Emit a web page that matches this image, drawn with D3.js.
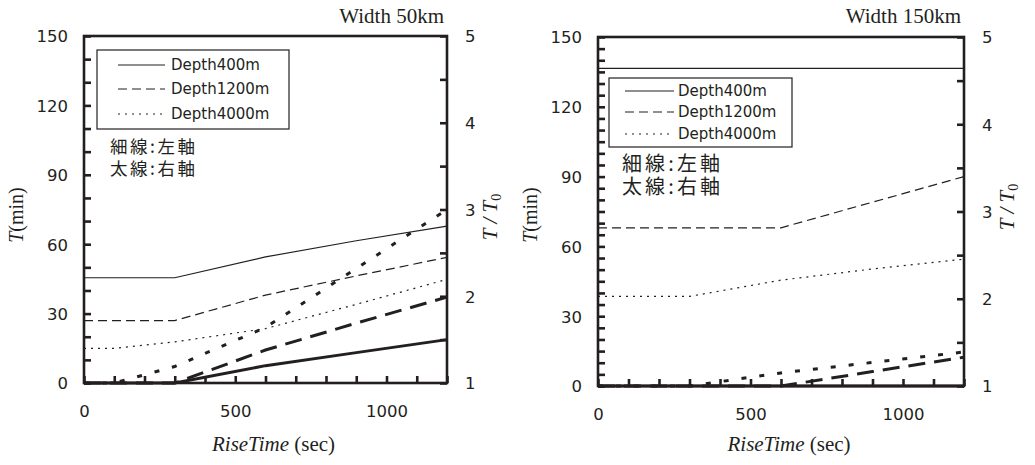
<!DOCTYPE html>
<html><head><meta charset="utf-8">
<title>T vs RiseTime</title>
<script src="https://d3js.org/d3.v7.min.js"></script>
<style>
  body { margin: 0; background: #fff; }
  svg { display: block; }
  .tick line { stroke: #231f20; stroke-width: 2.6; }
  .tick text { font-family: "DejaVu Sans", sans-serif; font-size: 16.5px; fill: #231f20; }
</style>
</head>
<body>
<svg width="1035" height="465"></svg>
<script>
  // rise time samples (sec)
  const riseTime = [0, 100, 300, 600, 900, 1200];
  const depths = ["Depth400m", "Depth1200m", "Depth4000m"];
  const notes = ["細線:左軸", "太線:右軸"];

  // Width 50km: thin = T (min) left axis, thick = T/T0 right axis
  const w50T400 = [45.5, 45.5, 45.5, 54.5, 61.5, 67.8];
  const w50T1200 = [27, 27, 27, 38, 46.3, 54.3];
  const w50T4000 = [15, 15, 17.8, 23.5, 34, 44.8];
  const w50R400 = [1, 1, 1, 1.2, 1.35, 1.5];
  const w50R1200 = [1, 1, 1, 1.38, 1.69, 1.99];
  const w50R4000 = [1, 1, 1.19, 1.64, 2.32, 3.0];

  // Width 150km
  const w150T400 = [136.5, 136.5, 136.5, 136.5, 136.5, 136.5];
  const w150T1200 = [68, 68, 68, 68, 79, 90];
  const w150T4000 = [38.5, 38.5, 38.5, 45.5, 50.3, 54.5];
  const w150R400 = [1, 1, 1, 1, 1, 1];
  const w150R1200 = [1, 1, 1, 1, 1.165, 1.33];
  const w150R4000 = [1, 1, 1, 1.15, 1.27, 1.39];

  const ink = "#231f20";
  const thinDash = [null, "9,5", "2,5"];
  const thickDash = [null, "17,9", "5,13"];

  const panels = [
    { title: "Width 50km", left: 84, right: 447, top: 36, bottom: 383, minorT: 10,
      thin: [w50T400, w50T1200, w50T4000], thick: [w50R400, w50R1200, w50R4000],
      leg: { x: 97, y: 50, w: 192, h: 79, rows: [65, 89, 114], lx: 118, lw: 47, tx: 171 },
      note: { x: 110, y: 153, gap: 22, size: 17.5, len: 85 },
      rtY: 217 },
    { title: "Width 150km", left: 598, right: 964, top: 37, bottom: 386, minorT: 5,
      thin: [w150T400, w150T1200, w150T4000], thick: [w150R400, w150R1200, w150R4000],
      leg: { x: 609, y: 78, w: 183, h: 69, rows: [91, 112, 134], lx: 625, lw: 49, tx: 678 },
      note: { x: 622, y: 171, gap: 23, size: 20, len: 98 },
      rtY: 207 }
  ];

  const svg = d3.select("svg");

  panels.forEach(p => {
    const g = svg.append("g");
    const x = d3.scaleLinear().domain([0, 1200]).range([p.left, p.right]);
    const yT = d3.scaleLinear().domain([0, 150]).range([p.bottom, p.top]);
    const yR = d3.scaleLinear().domain([1, 5]).range([p.bottom, p.top]);

    // frame
    g.append("rect")
      .attr("x", p.left).attr("y", p.top)
      .attr("width", p.right - p.left).attr("height", p.bottom - p.top)
      .attr("fill", "none").attr("stroke", ink).attr("stroke-width", 2.6);

    // axes, ticks pointing inward
    const ax = g.append("g").attr("transform", "translate(0," + p.bottom + ")")
      .call(d3.axisBottom(x).tickValues(d3.range(0, 1201, 100)).tickSize(-7).tickPadding(22)
        .tickFormat(d => d % 500 === 0 ? d : ""));
    const al = g.append("g").attr("transform", "translate(" + p.left + ",0)")
      .call(d3.axisLeft(yT).tickValues(d3.range(0, 151, p.minorT)).tickSize(-7).tickPadding(16)
        .tickFormat(d => d % 30 === 0 ? d : ""));
    const ar = g.append("g").attr("transform", "translate(" + p.right + ",0)")
      .call(d3.axisRight(yR).tickValues(d3.range(1, 5.01, 0.5)).tickSize(-7).tickPadding(18)
        .tickFormat(d => Number.isInteger(d) ? d : ""));
    [ax, al, ar].forEach(a => a.select(".domain").remove());
    al.selectAll(".tick text").attr("dy", "0.36em");
    ar.selectAll(".tick text").attr("dy", "0.36em");

    // thin lines (left axis), thick lines (right axis)
    const lineT = d3.line().x((d, i) => x(riseTime[i])).y(d => yT(d));
    const lineR = d3.line().x((d, i) => x(riseTime[i])).y(d => yR(d));
    p.thin.forEach((vals, k) => {
      g.append("path").attr("d", lineT(vals))
        .attr("fill", "none").attr("stroke", ink).attr("stroke-width", 1.2)
        .attr("stroke-dasharray", thinDash[k]);
    });
    p.thick.forEach((vals, k) => {
      g.append("path").attr("d", lineR(vals))
        .attr("fill", "none").attr("stroke", ink).attr("stroke-width", 3)
        .attr("stroke-dasharray", thickDash[k]);
    });

    // legend
    const L = p.leg;
    g.append("rect").attr("x", L.x).attr("y", L.y).attr("width", L.w).attr("height", L.h)
      .attr("fill", "#fff").attr("stroke", ink).attr("stroke-width", 1.2);
    depths.forEach((name, k) => {
      g.append("line").attr("x1", L.lx).attr("x2", L.lx + L.lw)
        .attr("y1", L.rows[k]).attr("y2", L.rows[k])
        .attr("stroke", ink).attr("stroke-width", 1.2).attr("stroke-dasharray", thinDash[k]);
      g.append("text").attr("x", L.tx).attr("y", L.rows[k]).attr("dy", "0.36em")
        .style("font-family", "'DejaVu Sans', sans-serif").style("font-size", "15px")
        .attr("fill", ink).text(name);
    });

    // notes (one text block, two lines)
    const nt = g.append("text").attr("x", p.note.x).attr("y", p.note.y)
      .style("font-family", "'Noto Sans CJK JP', sans-serif").style("font-size", p.note.size + "px")
      .attr("fill", ink);
    notes.forEach((t, k) => {
      nt.append("tspan").attr("x", p.note.x).attr("dy", k === 0 ? 0 : p.note.gap)
        .attr("textLength", p.note.len).attr("lengthAdjust", "spacing").text(t);
    });

    // panel title
    g.append("text").attr("x", p.right - 3).attr("y", 23).attr("text-anchor", "end")
      .style("font-family", "'Liberation Serif', serif").style("font-size", "21px")
      .attr("fill", ink).text(p.title);

    // x axis title
    const xt = g.append("text").attr("x", (p.left + p.right) / 2 + 8).attr("y", 451)
      .attr("text-anchor", "middle")
      .style("font-family", "'Liberation Serif', serif").style("font-size", "21px").attr("fill", ink);
    xt.append("tspan").style("font-style", "italic").text("RiseTime");
    xt.append("tspan").text(" (sec)");

    // left axis title
    const lt = g.append("text")
      .attr("transform", "translate(" + (p.left - 61) + ",215) rotate(-90)")
      .attr("text-anchor", "middle")
      .style("font-family", "'Liberation Serif', serif").style("font-size", "20px").attr("fill", ink);
    lt.append("tspan").style("font-style", "italic").text("T");
    lt.append("tspan").text("(min)");

    // right axis title
    const rt = g.append("text")
      .attr("transform", "translate(" + (p.right + 50) + "," + p.rtY + ") rotate(-90)")
      .attr("text-anchor", "middle")
      .style("font-family", "'Liberation Serif', serif").style("font-size", "21px")
      .style("font-style", "italic").attr("fill", ink);
    rt.append("tspan").text("T / T");
    rt.append("tspan").attr("dy", 4).style("font-size", "14px").style("font-style", "normal").text("0");
  });
</script>
</body></html>
